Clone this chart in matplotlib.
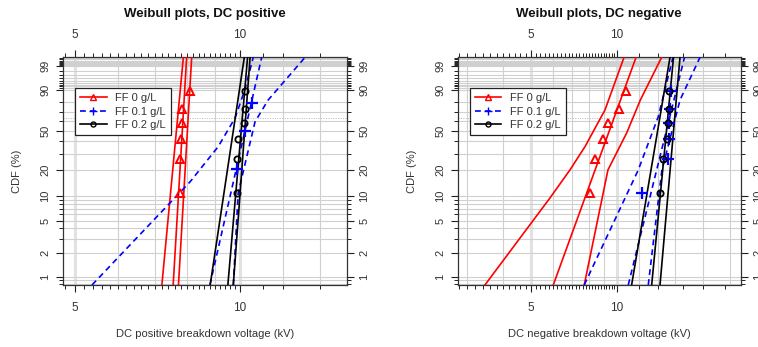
import numpy as np
import matplotlib
matplotlib.use("Agg")
import matplotlib.pyplot as plt
from matplotlib.lines import Line2D
from matplotlib.ticker import NullFormatter, FixedLocator, FixedFormatter

plt.rcParams['font.family'] = ['Liberation Sans', 'DejaVu Sans']

# ---------------- data ----------------
groups = ["FF 0 g/L", "FF 0.1 g/L", "FF 0.2 g/L"]
colors = ["#FF0000", "#0000FF", "#000000"]
rank6 = [10.9, 26.6, 42.2, 57.8, 73.4, 89.1]      # plotting positions (%)
rank3 = [20.6, 50.0, 79.4]

# DC positive breakdown voltages (kV)
pos_ff0 = [7.77, 7.78, 7.80, 7.82, 7.84, 8.11]
pos_ff01 = [9.86, 10.21, 10.50]
pos_ff02 = [9.86, 9.88, 9.90, 10.18, 10.20, 10.22]

# DC negative breakdown voltages (kV)
neg_ff0 = [8.07, 8.40, 8.98, 9.35, 10.21, 10.82]
neg_ff01 = [12.23, 15.16, 15.25, 15.30, 15.37, 15.45]
neg_ff02 = [14.18, 14.49, 15.03, 15.16, 15.20, 15.27]

# fitted lines and confidence bounds: (CDF %, kV)
edge_F = [0.79, 99.72]
pos_ff0_fit = [7.55, 7.99]
pos_ff0_lo = [7.20, 7.88]
pos_ff0_hi = [7.72, 8.16]
pos_ff01_fit = [8.81, 10.95]
pos_ff01_lo_F = [0.79, 14.7, 35.5, 63.5, 89.7, 99.72]
pos_ff01_lo = [5.37, 8.11, 9.12, 9.79, 10.20, 10.57]
pos_ff01_hi_F = [0.79, 10.8, 59.6, 81.7, 99.72]
pos_ff01_hi = [9.72, 9.92, 10.65, 11.25, 13.14]
pos_ff02_fit = [9.50, 10.32]
pos_ff02_lo = [8.82, 10.18]
pos_ff02_hi = [9.72, 10.43]

neg_ff0_fit = [6.00, 11.69]
neg_ff0_lo_F = [0.79, 9.42, 20.0, 35.4, 72.0, 99.72]
neg_ff0_lo = [3.46, 5.84, 6.86, 7.74, 9.10, 10.61]
neg_ff0_hi_F = [0.79, 20.0, 48.0, 81.7, 99.72]
neg_ff0_hi = [7.70, 9.32, 10.84, 12.10, 14.37]
neg_ff01_fit = [10.98, 17.27]
neg_ff01_lo_F = [0.79, 20.0, 64.9, 99.72]
neg_ff01_lo = [7.70, 11.90, 13.98, 15.74]
neg_ff01_hi_F = [0.79, 20.0, 81.7, 99.72]
neg_ff01_hi = [12.90, 14.40, 16.66, 19.57]
neg_ff02_fit = [13.26, 15.81]
neg_ff02_lo = [11.28, 15.37]
neg_ff02_hi = [14.18, 16.66]

y_major = [1, 2, 5, 10, 20, 50, 90, 99]
y_grid = [0.8, 0.9, 1, 2, 3, 4, 5, 6, 7, 8, 9, 10, 20, 30, 40, 50, 60, 70, 80,
          90, 91, 92, 93, 94, 95, 96, 97, 98, 99, 99.1, 99.2, 99.3, 99.4, 99.5,
          99.6, 99.7]


def fwd(p):
    p = np.clip(np.asarray(p, dtype=float), 1e-6, 100 - 1e-9)
    return np.log(-np.log(1 - p / 100.0))


def inv(w):
    return 100.0 * (1 - np.exp(-np.exp(np.asarray(w, dtype=float))))


W, H = 758, 347
fig = plt.figure(figsize=(W / 100, H / 100), dpi=100)

TXT = "#333333"
panels = [
    dict(left=63, right=347, xlim=(4.753, 15.67),
         xgrid=[6, 7, 8, 9, 12, 14], xmajgrid=[5, 10],
         xminor=list(np.round(np.arange(4.8, 10.0, 0.2), 2)) + [11, 12, 14],
         title="Weibull plots, DC positive",
         xlabel="DC positive breakdown voltage (kV)",
         pts=[(pos_ff0, rank6), (pos_ff01, rank3), (pos_ff02, rank6)],
         lines=[[(edge_F, pos_ff0_lo), (edge_F, pos_ff0_fit), (edge_F, pos_ff0_hi)],
                [(pos_ff01_lo_F, pos_ff01_lo), (edge_F, pos_ff01_fit), (pos_ff01_hi_F, pos_ff01_hi)],
                [(edge_F, pos_ff02_lo), (edge_F, pos_ff02_fit), (edge_F, pos_ff02_hi)]]),
    dict(left=457.7, right=740.7, xlim=(2.777, 27.17),
         xgrid=[3, 4, 6, 7, 8, 9, 12, 14, 16, 20, 25], xmajgrid=[5, 10],
         xminor=list(np.round(np.arange(2.8, 10.0, 0.2), 2)) + [12, 14, 17, 20, 24],
         title="Weibull plots, DC negative",
         xlabel="DC negative breakdown voltage (kV)",
         pts=[(neg_ff0, rank6), (neg_ff01, rank6), (neg_ff02, rank6)],
         lines=[[(neg_ff0_lo_F, neg_ff0_lo), (edge_F, neg_ff0_fit), (neg_ff0_hi_F, neg_ff0_hi)],
                [(neg_ff01_lo_F, neg_ff01_lo), (edge_F, neg_ff01_fit), (neg_ff01_hi_F, neg_ff01_hi)],
                [(edge_F, neg_ff02_lo), (edge_F, neg_ff02_fit), (edge_F, neg_ff02_hi)]]),
]

top, bottom = 57.3, 285
styles = [dict(ls='-', marker='^', ms=6, mew=1.4),
          dict(ls=(0, (3.5, 2.5)), marker='+', ms=8, mew=1.6),
          dict(ls='-', marker='o', ms=4.5, mew=1.3)]

for pnl in panels:
    ax = fig.add_axes([pnl['left'] / W, (H - bottom) / H,
                       (pnl['right'] - pnl['left']) / W, (bottom - top) / H])
    ax.set_xscale('log')
    ax.set_yscale('function', functions=(fwd, inv))
    ax.set_xlim(*pnl['xlim'])
    ax.set_ylim(0.788, 99.72)

    # grid
    for g in pnl['xgrid']:
        ax.axvline(g, color='#d0d0d0', lw=0.8, zorder=1)
    for g in pnl['xmajgrid']:
        ax.axvline(g, color='#e2e2e2', lw=2.2, zorder=0.9)
    for g in y_grid:
        ax.axhline(g, color='#d0d0d0', lw=0.8, zorder=1)
    ax.axhline(63.2, color='#b8b8b8', lw=0.7, ls=(0, (1, 1.5)), zorder=1.1)

    # lines
    for gi, (col, st) in enumerate(zip(colors, styles)):
        for (F, kv) in pnl['lines'][gi]:
            ax.plot(kv, F, color=col, ls=st['ls'], lw=1.2, zorder=3)
        kv, F = pnl['pts'][gi]
        ax.plot(kv, F, ls='none', marker=st['marker'], ms=st['ms'], mew=st['mew'],
                mec=col, mfc='none', zorder=4)

    # ticks
    ax.xaxis.set_major_locator(FixedLocator([5, 10]))
    ax.xaxis.set_major_formatter(FixedFormatter(['5', '10']))
    ax.xaxis.set_minor_locator(FixedLocator(pnl['xminor']))
    ax.xaxis.set_minor_formatter(NullFormatter())
    ax.yaxis.set_major_locator(FixedLocator(y_major))
    ax.yaxis.set_major_formatter(FixedFormatter([str(v) for v in y_major]))
    minor_y = [v for v in y_grid if v not in y_major]
    ax.yaxis.set_minor_locator(FixedLocator(minor_y))
    ax.yaxis.set_minor_formatter(NullFormatter())
    ax.tick_params(which='both', direction='out', top=True, right=True,
                   labeltop=True, labelright=True, colors='#222222',
                   labelcolor=TXT)
    ax.tick_params(axis='x', labelsize=8.5)
    ax.tick_params(axis='y', labelsize=8)
    ax.tick_params(which='major', length=5, width=0.8)
    ax.tick_params(which='minor', length=3, width=0.7)
    ax.tick_params(axis='x', which='major', pad=7)
    ax.tick_params(axis='y', which='major', pad=4, labelrotation=90)
    for lab in ax.get_yticklabels():
        lab.set_va('center')
    for s in ax.spines.values():
        s.set_color('#333333')
        s.set_linewidth(0.9)

    # legend
    handles = [Line2D([], [], color=c, ls=st['ls'], lw=1.2, marker=st['marker'],
                      ms=st['ms'] * 0.8, mew=1.0, mfc='none', mec=c)
               for c, st in zip(colors, styles)]
    leg = ax.legend(handles, groups, loc='upper left', bbox_to_anchor=(0.042, 0.864),
                    borderaxespad=0, fontsize=8, handlelength=2.4, handletextpad=0.8,
                    labelspacing=0.3, borderpad=0.45, fancybox=False, framealpha=1,
                    edgecolor='#222222', labelcolor=TXT)
    leg.get_frame().set_linewidth(0.9)
    leg.set_zorder(5)

    cx = (pnl['left'] + pnl['right']) / 2 / W
    fig.text(cx, 1 - 13.5 / H, pnl['title'], ha='center', va='center',
             fontsize=9.5, fontweight='bold', color='#111111')
    fig.text(cx, 1 - 334 / H, pnl['xlabel'], ha='center', va='center',
             fontsize=8, color=TXT)
    fig.text((pnl['left'] - 46) / W, 1 - 171 / H, "CDF (%)", ha='center', va='center',
             rotation=90, fontsize=8, color=TXT)

fig.savefig("out.png", dpi=100)
